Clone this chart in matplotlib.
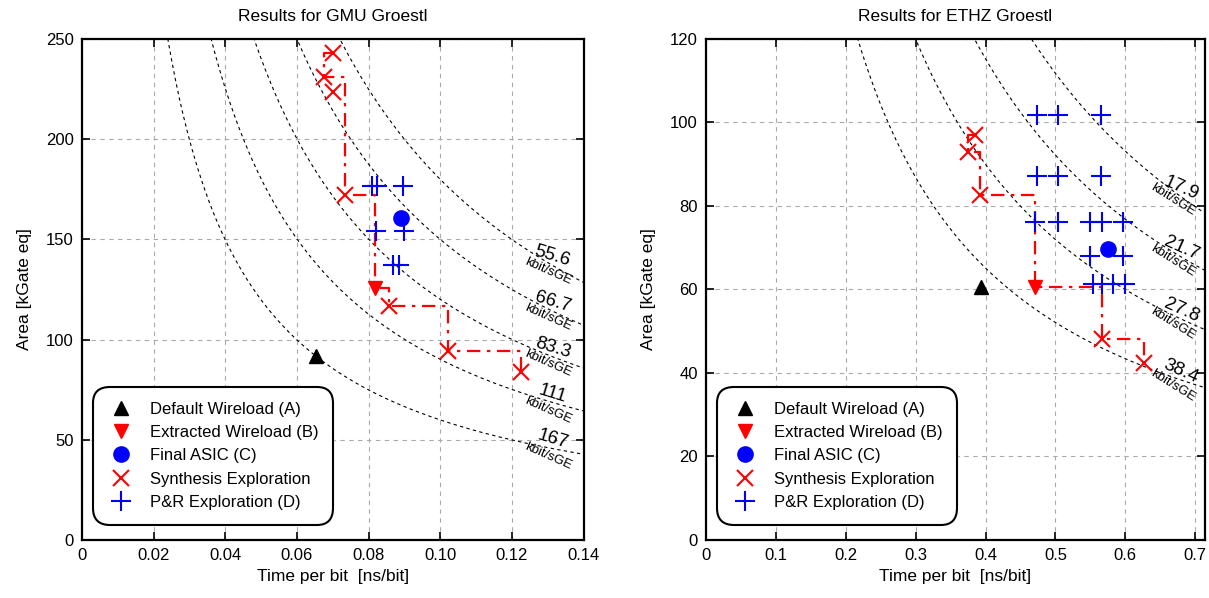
import numpy as np
import matplotlib
matplotlib.use("Agg")
import matplotlib.pyplot as plt

plt.rcParams['font.family'] = ['Liberation Sans', 'DejaVu Sans']

# ---- GMU Groestl (left) ----
gmu_default = (0.0654, 91.8)
gmu_extracted = (0.0817, 125.7)
gmu_final = (0.0890, 160.7)
gmu_synth_t = [0.0700, 0.0675, 0.0700, 0.0733, 0.0856, 0.1021, 0.1224]
gmu_synth_a = [243.0, 231.0, 223.6, 171.9, 116.8, 94.3, 83.8]
# path through the synthesis points (steps), passing the extracted point
gmu_path_t = [0.0700, 0.0675, 0.0733, 0.0817, 0.0856, 0.1021, 0.1224]
gmu_path_a = [243.0, 231.0, 171.9, 125.7, 116.8, 94.3, 83.8]
gmu_pr_t = [0.0809, 0.0823, 0.0895, 0.0820, 0.0898, 0.0867, 0.0884]
gmu_pr_a = [176.6, 176.6, 176.6, 154.2, 154.2, 137.2, 137.2]
gmu_iso = [55.6, 66.7, 83.3, 111, 167]

# ---- ETHZ Groestl (right) ----
ethz_default = (0.394, 60.7)
ethz_extracted = (0.471, 60.5)
ethz_final = (0.575, 69.6)
ethz_synth_t = [0.385, 0.375, 0.392, 0.567, 0.627]
ethz_synth_a = [97.0, 92.9, 82.6, 48.2, 42.5]
ethz_path_t = [0.385, 0.375, 0.392, 0.471, 0.567, 0.627]
ethz_path_a = [97.0, 92.9, 82.6, 60.5, 48.2, 42.5]
ethz_pr_t = [0.474, 0.504, 0.565,
             0.474, 0.504, 0.565,
             0.471, 0.504, 0.550, 0.567, 0.597,
             0.550, 0.597,
             0.554, 0.567, 0.583, 0.600]
ethz_pr_a = [101.8, 101.8, 101.8,
             87.1, 87.1, 87.1,
             76.1, 76.1, 76.1, 76.1, 76.1,
             67.9, 67.9,
             61.2, 61.2, 61.2, 61.2]
ethz_iso = [17.9, 21.7, 27.8, 38.4]


def draw_panel(ax, title, xmax, ymax, xticks, yticks, xfmt, iso, lab_t, lab_t2,
               default, extracted, final, synth_t, synth_a, path_t, path_a,
               pr_t, pr_a, rot_num, rot_unit):
    ax.set_xlim(0, xmax)
    ax.set_ylim(0, ymax)
    ax.set_xticks(xticks)
    ax.set_yticks(yticks)
    ax.set_xticklabels(["0"] + [xfmt % v for v in xticks[1:]])
    ax.grid(True, color='#aaaaaa', linestyle=(0, (4, 4)), linewidth=0.8)
    ax.set_axisbelow(True)
    ax.tick_params(direction='in', top=True, right=True, length=6, width=1.2,
                   labelsize=12, pad=6)
    for s in ax.spines.values():
        s.set_linewidth(1.6)

    # iso-throughput curves: area = 1000 / (t * throughput)
    t = np.linspace(xmax * 0.02, xmax, 400)
    for k in iso:
        ax.plot(t, 1000.0 / (t * k), color='black', linestyle=(0, (3, 3)),
                linewidth=0.8, zorder=1)
        ax.annotate(("%g" % k), (lab_t, 1000.0 / (lab_t * k)),
                    textcoords='offset pixels', xytext=(0, 9),
                    ha='center', va='center', rotation=rot_num, fontsize=13.5)
        ax.annotate("kbit/sGE", (lab_t2, 1000.0 / (lab_t2 * k)),
                    textcoords='offset pixels', xytext=(0, -9),
                    ha='center', va='center', rotation=rot_unit, fontsize=9.5)

    ax.plot(path_t, path_a, drawstyle='steps-post', color='red',
            linestyle=(0, (6, 3, 1.5, 3)), linewidth=1.6, zorder=2)
    ax.plot(*default, marker='^', color='black', markersize=10, linestyle='none',
            label='Default Wireload (A)', zorder=3)
    ax.plot(*extracted, marker='v', color='red', markersize=10, linestyle='none',
            label='Extracted Wireload (B)', zorder=3)
    ax.plot(*final, marker='o', color='blue', markersize=11, linestyle='none',
            label='Final ASIC (C)', zorder=3)
    ax.plot(synth_t, synth_a, marker='x', color='red', markersize=12, mew=1.5,
            linestyle='none', label='Synthesis Exploration', zorder=3)
    ax.plot(pr_t, pr_a, marker='+', color='blue', markersize=14, mew=1.5,
            linestyle='none', label='P&R Exploration (D)', zorder=3)

    ax.set_title(title, fontsize=12.5, pad=13)
    ax.set_xlabel("Time per bit  [ns/bit]", fontsize=12.5)
    ax.set_ylabel("Area [kGate eq]", fontsize=12.5, labelpad=10)
    leg = ax.legend(loc='lower left', bbox_to_anchor=(0.032, 0.04),
                    borderaxespad=0, fontsize=12, frameon=True, fancybox=True,
                    framealpha=1, edgecolor='black', handletextpad=0.9,
                    labelspacing=0.5, borderpad=0.6, handlelength=1.6)
    leg.get_frame().set_linewidth(1.5)
    leg.get_frame().set_boxstyle('round,pad=0.3,rounding_size=1.0')


fig = plt.figure(figsize=(12.09, 5.98), dpi=100)
ax1 = fig.add_axes([0.0678, 0.097, 0.415, 0.838])
ax2 = fig.add_axes([0.584, 0.097, 0.4127, 0.838])

draw_panel(ax1, "Results for GMU Groestl", 0.14, 250,
           [0, 0.02, 0.04, 0.06, 0.08, 0.10, 0.12, 0.14], [0, 50, 100, 150, 200, 250],
           "%.2f", gmu_iso, 0.1313, 0.1300,
           gmu_default, gmu_extracted, gmu_final, gmu_synth_t, gmu_synth_a,
           gmu_path_t, gmu_path_a, gmu_pr_t, gmu_pr_a, -17, -24)

draw_panel(ax2, "Results for ETHZ Groestl", 0.714, 120,
           [0, 0.1, 0.2, 0.3, 0.4, 0.5, 0.6, 0.7], [0, 20, 40, 60, 80, 100, 120],
           "%.1f", ethz_iso, 0.680, 0.668,
           ethz_default, ethz_extracted, ethz_final, ethz_synth_t, ethz_synth_a,
           ethz_path_t, ethz_path_a, ethz_pr_t, ethz_pr_a, -24, -32)

fig.savefig("out.png", dpi=100)
